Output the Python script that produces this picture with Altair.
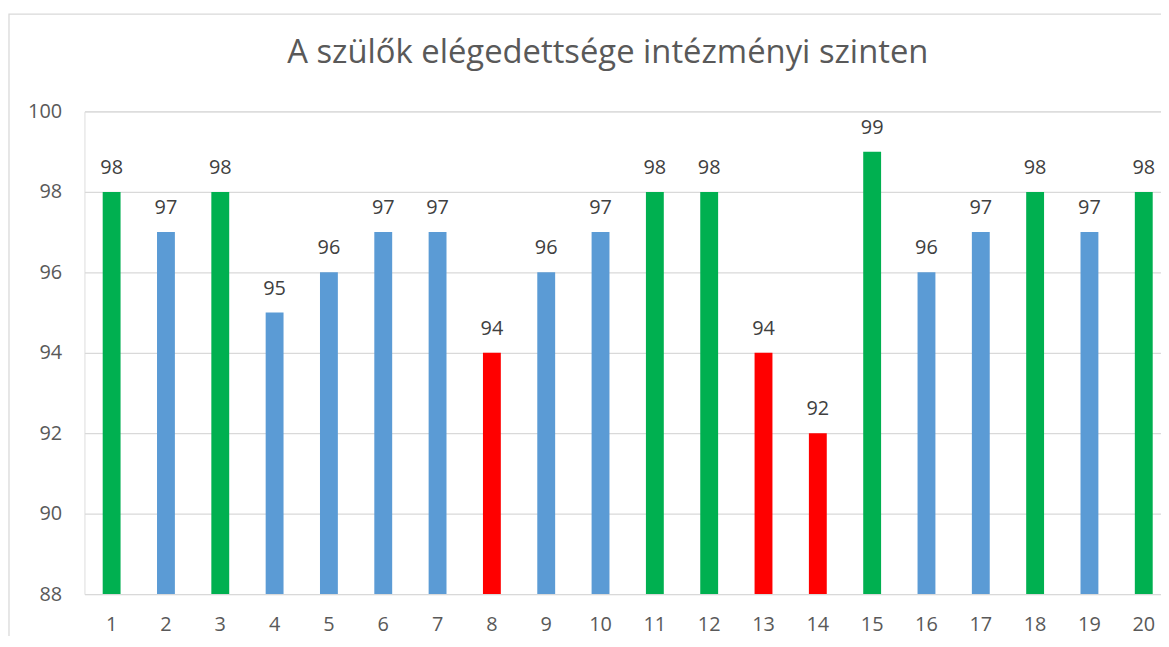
import altair as alt
import pandas as pd

categories = [str(i) for i in range(1, 21)]
values = [98, 97, 98, 95, 96, 97, 97, 94, 96, 97, 98, 98, 94, 92, 99, 96, 97, 98, 97, 98]
y_ticks = [88, 90, 92, 94, 96, 98, 100]
title_text = "A szülők elégedettsége intézményi szinten"

levels = ["magas" if v >= 98 else ("alacsony" if v <= 94 else "közepes") for v in values]
df = pd.DataFrame({"intezmeny": categories, "ertek": values, "szint": levels})

FONT = "Open Sans"

x_enc = alt.X(
    "intezmeny:N",
    sort=categories,
    scale=alt.Scale(range=[0, 1094], paddingInner=0, paddingOuter=0),
    axis=alt.Axis(
        title=None, labelAngle=0, ticks=False, domain=False, grid=False,
        labelFontSize=20, labelFont=FONT, labelColor="#595959",
        labelBaseline="alphabetic", labelPadding=37,
    ),
)
y_enc = alt.Y(
    "ertek:Q",
    scale=alt.Scale(domain=[88, 100], nice=False, zero=False),
    axis=alt.Axis(
        title=None, values=y_ticks, ticks=False, domain=False,
        gridColor="#d9d9d9", gridWidth=1.3,
        labelFontSize=20, labelFont=FONT, labelColor="#595959",
        labelPadding=23,
    ),
)

base = alt.Chart(df)

bars = base.mark_bar(size=18, clip=True).encode(
    x=x_enc,
    y=y_enc,
    color=alt.Color(
        "szint:N",
        scale=alt.Scale(domain=["magas", "közepes", "alacsony"],
                        range=["#00B050", "#5B9BD5", "#FF0000"]),
        legend=None,
    ),
)

labels = base.mark_text(
    dy=-18, baseline="alphabetic", align="center",
    fontSize=20, font=FONT, color="#404040",
).encode(
    x=alt.X("intezmeny:N", sort=categories),
    y=alt.Y("ertek:Q"),
    text=alt.Text("ertek:Q"),
)

frame = alt.Chart(pd.DataFrame({"k": [0]})).mark_rect(
    fill=None, stroke="#d9d9d9", strokeWidth=1.3
).encode(
    x=alt.value(-76), x2=alt.value(1200),
    y=alt.value(-98), y2=alt.value(700),
)

chart = alt.layer(frame, bars, labels).properties(
    width=1084,
    height=486,
    title=alt.TitleParams(
        text=title_text, fontSize=33, font=FONT, fontWeight="normal",
        color="#595959", anchor="middle", baseline="alphabetic",
        dx=-15, offset=-83,
    ),
    padding={"left": 77, "top": 102, "right": 0, "bottom": 40},
    autosize=alt.AutoSizeParams(type="none"),
).configure_view(stroke=None).configure(background="white")

chart.save("out.html", embed_options={"renderer": "svg", "actions": False})
